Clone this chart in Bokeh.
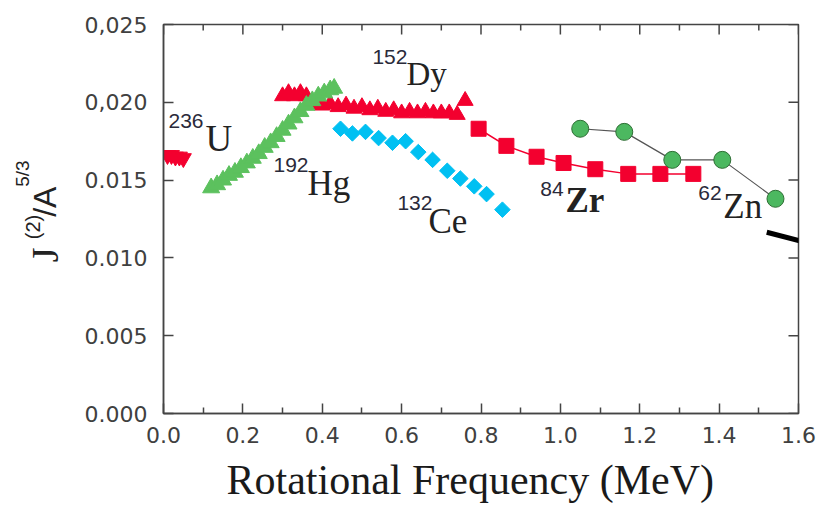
import math
from bokeh.plotting import figure
from bokeh.models import Label, FixedTicker, Range1d
from bokeh.layouts import row, column
from bokeh.embed import file_html
from bokeh.resources import INLINE

# ---------------- data ----------------
u236_x = [0.01, 0.02, 0.03, 0.04, 0.05]
u236_y = [0.0166, 0.0166, 0.0165, 0.0165, 0.0164]

hg192_x = [0.12, 0.135, 0.15, 0.165, 0.18, 0.195, 0.21, 0.225, 0.24, 0.255, 0.27,
           0.285, 0.30, 0.315, 0.33, 0.345, 0.36, 0.375, 0.39, 0.405, 0.42, 0.43]
hg192_y = [0.0145, 0.0147, 0.0150, 0.0153, 0.0155, 0.0158, 0.0161, 0.0164, 0.0167, 0.0171, 0.0174,
           0.0178, 0.0182, 0.0186, 0.0190, 0.0194, 0.0198, 0.0201, 0.0204, 0.0206, 0.0208, 0.0209]

dy152_x = [0.30, 0.315, 0.33, 0.345, 0.36, 0.38, 0.40, 0.42, 0.44, 0.46, 0.48, 0.50, 0.52,
           0.54, 0.56, 0.58, 0.60, 0.62, 0.64, 0.66, 0.68, 0.70, 0.72, 0.74, 0.76]
dy152_y = [0.0204, 0.0206, 0.0204, 0.0206, 0.0204, 0.0199, 0.0198, 0.0199, 0.0197, 0.0198, 0.0196,
           0.0197, 0.0195, 0.0196, 0.0194, 0.0195, 0.0193, 0.0194, 0.0193, 0.0194, 0.0193, 0.0193,
           0.0193, 0.0192, 0.0201]

ce132_x = [0.446, 0.476, 0.509, 0.542, 0.577, 0.610, 0.642, 0.678, 0.715, 0.748, 0.783, 0.814, 0.854]
ce132_y = [0.0183, 0.0180, 0.0181, 0.0177, 0.0174, 0.0175, 0.0168, 0.0163, 0.0156, 0.0151, 0.0146, 0.0141, 0.0131]

zr84_x = [0.794, 0.864, 0.940, 1.008, 1.088, 1.171, 1.252, 1.335]
zr84_y = [0.0183, 0.0172, 0.0165, 0.0161, 0.0157, 0.0154, 0.0154, 0.0154]

zn62_x = [1.050, 1.161, 1.282, 1.408, 1.542]
zn62_y = [0.0183, 0.0181, 0.0163, 0.0163, 0.0138]

# stray black stroke at the right edge of the picture
stroke_x = [1.52, 1.655]
stroke_y = [0.01165, 0.01075]

x_ticks = [0.0, 0.2, 0.4, 0.6, 0.8, 1.0, 1.2, 1.4, 1.6]
x_minor = [0.1, 0.3, 0.5, 0.7, 0.9, 1.1, 1.3, 1.5]
x_labels = ["0.0", "0.2", "0.4", "0.6", "0.8", "1.0", "1.2", "1.4", "1.6"]
y_ticks = [0.0, 0.005, 0.010, 0.015, 0.020, 0.025]
y_labels = ["0.000", "0.005", "0.010", "0.015", "0,020", "0,025"]

x_title = "Rotational Frequency (MeV)"
y_title_parts = ["J", "(2)", "/A", "5/3"]

iso_mass = ["236", "192", "152", "132", "84", "62"]
iso_sym = ["U", "Hg", "Dy", "Ce", "Zr", "Zn"]

# ---------------- styles / layout ----------------
RED = "#f3002f"
CYAN = "#00c0f2"
GREEN_T = "#5cc15e"
GREEN_C = "#4cb860"
AX = "#444444"
TXT = "#222222"

X0, X1, Y0, Y1 = 0.0, 1.6, 0.0, 0.025
FRAME_W, FRAME_H = 635, 389  # pixels
px_x = (X1 - X0) / FRAME_W
px_y = (Y1 - Y0) / FRAME_H

TOP_H = 453       # height of the plot row
BOT_H = 506 - TOP_H

p = figure(width=748, height=TOP_H, x_range=Range1d(X0, X1), y_range=Range1d(Y0, Y1),
           output_backend="svg", toolbar_location=None,
           min_border_left=93, min_border_right=20, min_border_top=24, min_border_bottom=TOP_H - 24 - FRAME_H,
           background_fill_color="white", border_fill_color="white")
p.grid.visible = False
p.outline_line_color = AX
p.outline_line_width = 1.5

xa = p.below[0]
xa.ticker = FixedTicker(ticks=x_ticks, minor_ticks=x_minor)
xa.major_label_overrides = {t: l for t, l in zip(x_ticks, x_labels)}
ya = p.left[0]
ya.ticker = FixedTicker(ticks=y_ticks, minor_ticks=[])
ya.major_label_overrides = {t: l for t, l in zip(y_ticks, y_labels)}

for ax in (xa, ya):
    ax.axis_line_color = AX
    ax.axis_line_width = 1.5
    ax.major_tick_line_color = AX
    ax.minor_tick_line_color = AX
    ax.major_tick_line_width = 1.5
    ax.minor_tick_line_width = 1.5
    ax.major_tick_in = 10
    ax.major_tick_out = 0
    ax.minor_tick_in = 6
    ax.minor_tick_out = 0
    ax.major_label_text_font = "DejaVu Sans"
    ax.major_label_text_font_size = "22px"
    ax.major_label_text_color = "#404040"
xa.major_label_standoff = 13
ya.major_label_standoff = 16

# mirrored ticks on the top and right edges
p.segment(x0=x_ticks, y0=[Y1] * len(x_ticks), x1=x_ticks, y1=[Y1 - 10 * px_y] * len(x_ticks),
          line_color=AX, line_width=1.5)
p.segment(x0=x_minor, y0=[Y1] * len(x_minor), x1=x_minor, y1=[Y1 - 6 * px_y] * len(x_minor),
          line_color=AX, line_width=1.5)
p.segment(x0=[X1] * len(y_ticks), y0=y_ticks, x1=[X1 - 10 * px_x] * len(y_ticks), y1=y_ticks,
          line_color=AX, line_width=1.5)

# ---------------- series ----------------
p.scatter(ce132_x, ce132_y, marker="square", angle=math.pi / 4, size=11, fill_color=CYAN, line_color=CYAN)

p.line(zr84_x, zr84_y, line_color=RED, line_width=1.5)
p.scatter(zr84_x, zr84_y, marker="square", size=15, fill_color=RED, line_color=RED)

p.line(zn62_x, zn62_y, line_color="#555555", line_width=1.2)
p.scatter(zn62_x, zn62_y, marker="circle", size=17, fill_color=GREEN_C, line_color="#2e6e34", line_width=1)

p.scatter(dy152_x, dy152_y, marker="triangle", size=16, fill_color=RED, line_color=RED)
p.scatter(hg192_x, hg192_y, marker="triangle", size=17, fill_color=GREEN_T, line_color=GREEN_T)
p.scatter(u236_x, u236_y, marker="inverted_triangle", size=16, fill_color=RED, line_color=RED)

p.line(stroke_x, stroke_y, line_color="black", line_width=5)

# ---------------- isotope labels ----------------
mass_pos = [(0.0126, 0.01877), (0.2771, 0.01600), (0.5264, 0.02288), (0.5894, 0.01356), (0.9496, 0.01446), (1.3476, 0.01420)]
sym_pos = [(0.1058, 0.01765), (0.3627, 0.01476), (0.6121, 0.02183), (0.6675, 0.01232), (1.0126, 0.01368), (1.4106, 0.01330)]
sym_size = ["37px", "35px", "33px", "35px", "35px", "35px"]
sym_style = ["normal", "normal", "normal", "normal", "bold", "normal"]

for i in range(len(iso_mass)):
    mx, my = mass_pos[i]
    sx, sy = sym_pos[i]
    p.add_layout(Label(x=mx, y=my, text=iso_mass[i], text_font="Liberation Sans", text_font_size="21px",
                       text_color="#2a2a3a", text_baseline="alphabetic", text_align="left"))
    p.add_layout(Label(x=sx, y=sy, text=iso_sym[i], text_font="Liberation Serif", text_font_size=sym_size[i],
                       text_font_style=sym_style[i], text_color=TXT, text_baseline="alphabetic", text_align="left"))

# ---------------- y-axis title panel (rotated, with superscripts) ----------------
yl = figure(width=70, height=TOP_H, x_range=Range1d(0, 70), y_range=Range1d(0, TOP_H),
            output_backend="svg", toolbar_location=None, x_axis_type=None, y_axis_type=None,
            min_border=0, background_fill_color="white", border_fill_color="white")
yl.grid.visible = False
yl.outline_line_color = None
# (font, size, baseline x, start y measured down from the top of the page)
ylab_style = [("Liberation Serif", "38px", 44, 277),
              ("Liberation Sans", "20px", 32, 250),
              ("Liberation Sans", "32px", 44, 224),
              ("Liberation Sans", "19px", 22, 189)]
for t, (f, s, lx, ly_top) in zip(y_title_parts, ylab_style):
    yl.add_layout(Label(x=lx, y=TOP_H - ly_top, text=t, text_font=f, text_font_size=s, text_color=TXT,
                        angle=math.pi / 2, text_baseline="alphabetic", text_align="left"))

# ---------------- x-axis title panel ----------------
xl = figure(width=818, height=BOT_H, x_range=Range1d(0, 818), y_range=Range1d(0, BOT_H),
            output_backend="svg", toolbar_location=None, x_axis_type=None, y_axis_type=None,
            min_border=0, background_fill_color="white", border_fill_color="white")
xl.grid.visible = False
xl.outline_line_color = None
xl.add_layout(Label(x=226, y=27, text=x_title, text_font="Liberation Serif", text_font_size="42px",
                    text_color="#1a1a1a", text_baseline="alphabetic", text_align="left"))

layout = column(row(yl, p, spacing=0), xl, spacing=0)
open("out.html", "w").write(file_html(layout, INLINE))
